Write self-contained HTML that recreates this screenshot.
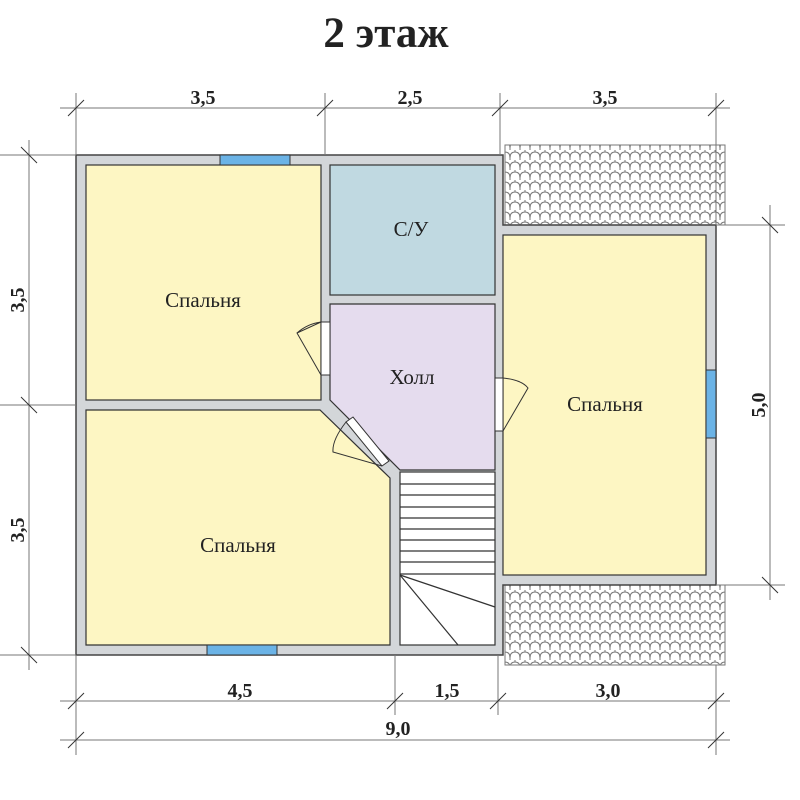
<!DOCTYPE html>
<html><head><meta charset="utf-8"><style>
html,body{margin:0;padding:0;background:#fff}
svg{display:block}
text{font-family:"Liberation Serif",serif;fill:#222}
</style></head><body>
<svg width="800" height="800" viewBox="0 0 800 800" xmlns="http://www.w3.org/2000/svg">
<defs>
<pattern id="tile" width="10" height="10" patternUnits="userSpaceOnUse">
<rect width="10" height="10" fill="#fff"/>
<path d="M0,8 Q0,2 5,2 Q10,2 10,8 M5,2 V-2 M0,8 V10 M10,8 V10" fill="none" stroke="#777" stroke-width="1"/>
</pattern>
</defs>
<text x="386" y="47" font-size="43" font-weight="bold" text-anchor="middle">2 этаж</text>

<!-- porches -->
<rect x="505" y="145" width="220" height="80" fill="url(#tile)" stroke="#777"/>
<rect x="505" y="585" width="220" height="80" fill="url(#tile)" stroke="#777"/>

<!-- walls base -->
<path d="M76,155 H503 V225 H716 V585 H503 V655 H76 Z" fill="#d3d6d9" stroke="#444" stroke-width="1.5"/>

<!-- rooms -->
<rect x="86" y="165" width="235" height="235" fill="#fdf6c3" stroke="#333" stroke-width="1.2"/>
<rect x="330" y="165" width="165" height="130" fill="#c0d9e1" stroke="#333" stroke-width="1.2"/>
<path d="M330,304 H495 V470 H400 L330,400 Z" fill="#e5dcee" stroke="#333" stroke-width="1.2"/>
<path d="M86,410 H320 L390,478 V645 H86 Z" fill="#fdf6c3" stroke="#333" stroke-width="1.2"/>
<rect x="503" y="235" width="203" height="340" fill="#fdf6c3" stroke="#333" stroke-width="1.2"/>
<!-- stairs -->
<rect x="400" y="472" width="95" height="173" fill="#fff" stroke="#333" stroke-width="1.2"/>
<g stroke="#333" stroke-width="1.2">
<line x1="400" y1="484" x2="495" y2="484"/><line x1="400" y1="495" x2="495" y2="495"/>
<line x1="400" y1="507" x2="495" y2="507"/><line x1="400" y1="518" x2="495" y2="518"/>
<line x1="400" y1="529" x2="495" y2="529"/><line x1="400" y1="540" x2="495" y2="540"/>
<line x1="400" y1="551" x2="495" y2="551"/><line x1="400" y1="562" x2="495" y2="562"/>
<line x1="400" y1="574" x2="495" y2="574"/>
<line x1="400" y1="575" x2="495" y2="607"/><line x1="400" y1="575" x2="458" y2="645"/>
</g>

<!-- windows -->
<rect x="220" y="155" width="70" height="10" fill="#6bb3e6" stroke="#333"/>
<rect x="207" y="645" width="70" height="10" fill="#6bb3e6" stroke="#333"/>
<rect x="706" y="370" width="10" height="68" fill="#6bb3e6" stroke="#333"/>

<!-- doors -->
<rect x="321" y="322" width="9" height="53" fill="#fff" stroke="#333"/>
<path d="M321,322 L297,333 L321,375 M297,333 A45,45 0 0 1 321,322" fill="none" stroke="#333"/>
<rect x="495" y="378" width="8" height="53" fill="#fff" stroke="#333"/>
<path d="M503,378 Q522,380 528,388 L503,431" fill="none" stroke="#333"/>
<path d="M346,422 L382,466 L389,461 L353,417 Z" fill="#fff" stroke="#333"/>
<path d="M346,422 Q332,440 333,452 L382,466" fill="none" stroke="#333"/>

<!-- labels -->
<g font-size="21" text-anchor="middle" textLength="90">
<text x="203" y="307">Спальня</text>
<text x="411" y="236">С/У</text>
<text x="412" y="384">Холл</text>
<text x="238" y="552">Спальня</text>
<text x="605" y="411">Спальня</text>
</g>

<!-- dimension lines -->
<g stroke="#777" stroke-width="1" fill="none">
<line x1="60" y1="108" x2="730" y2="108"/>
<line x1="76" y1="93" x2="76" y2="155"/><line x1="325" y1="93" x2="325" y2="155"/>
<line x1="500" y1="93" x2="500" y2="155"/><line x1="716" y1="93" x2="716" y2="225"/>
<line x1="60" y1="701" x2="730" y2="701"/><line x1="60" y1="740" x2="730" y2="740"/>
<line x1="76" y1="655" x2="76" y2="755"/><line x1="395" y1="655" x2="395" y2="715"/>
<line x1="498" y1="655" x2="498" y2="715"/><line x1="716" y1="665" x2="716" y2="755"/>
<line x1="0" y1="155" x2="76" y2="155"/><line x1="0" y1="405" x2="76" y2="405"/><line x1="0" y1="655" x2="76" y2="655"/>
<line x1="29" y1="140" x2="29" y2="670"/>
<line x1="716" y1="225" x2="785" y2="225"/><line x1="716" y1="585" x2="785" y2="585"/>
<line x1="770" y1="205" x2="770" y2="600"/>
</g>
<g stroke="#333" stroke-width="1">
<line x1="68" y1="116" x2="84" y2="100"/><line x1="317" y1="116" x2="333" y2="100"/>
<line x1="492" y1="116" x2="508" y2="100"/><line x1="708" y1="116" x2="724" y2="100"/>
<line x1="68" y1="709" x2="84" y2="693"/><line x1="387" y1="709" x2="403" y2="693"/>
<line x1="490" y1="709" x2="506" y2="693"/><line x1="708" y1="709" x2="724" y2="693"/>
<line x1="68" y1="748" x2="84" y2="732"/><line x1="708" y1="748" x2="724" y2="732"/>
<line x1="21" y1="147" x2="37" y2="163"/><line x1="21" y1="397" x2="37" y2="413"/><line x1="21" y1="647" x2="37" y2="663"/>
<line x1="762" y1="217" x2="778" y2="233"/><line x1="762" y1="577" x2="778" y2="593"/>
</g>
<g font-size="20" font-weight="bold" text-anchor="middle">
<text x="203" y="104">3,5</text><text x="410" y="104">2,5</text><text x="605" y="104">3,5</text>
<text x="240" y="697">4,5</text><text x="447" y="697">1,5</text><text x="608" y="697">3,0</text>
<text x="398" y="735">9,0</text>
<text transform="translate(24,300) rotate(-90)">3,5</text>
<text transform="translate(24,530) rotate(-90)">3,5</text>
<text transform="translate(765,405) rotate(-90)">5,0</text>
</g>
</svg>
</body></html>
